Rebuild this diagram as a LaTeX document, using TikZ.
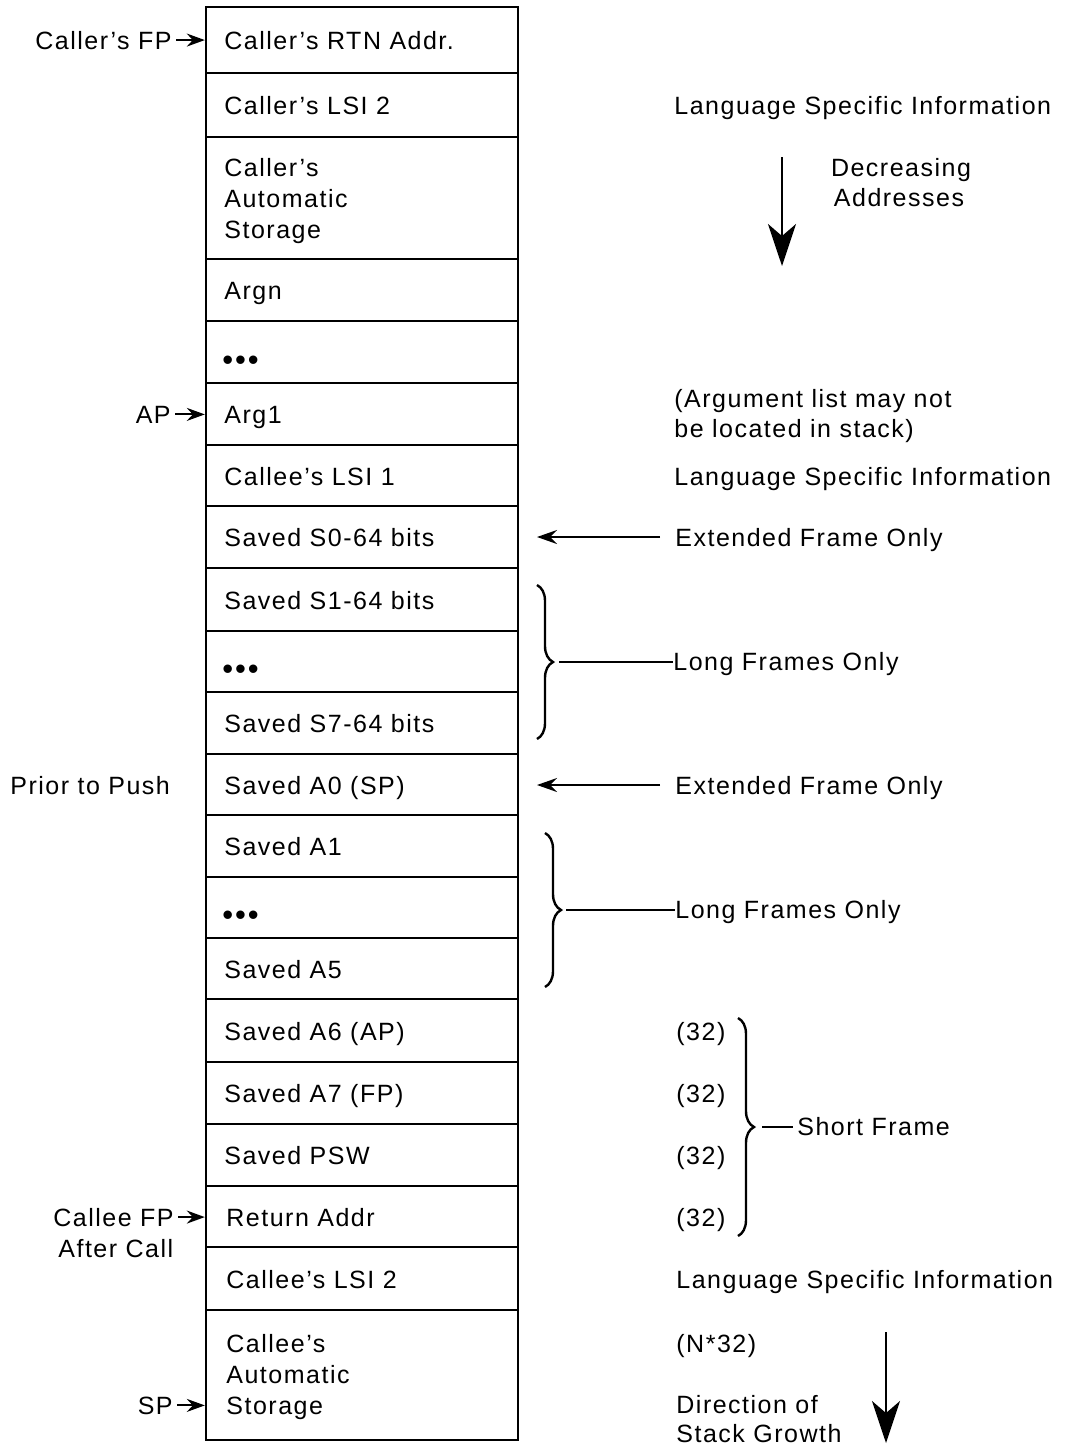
\documentclass[tikz,border=0pt]{standalone}
\usepackage{fontspec}
\setmainfont{Liberation Sans}[LetterSpace=6]
\usetikzlibrary{arrows.meta,decorations.pathreplacing,calc}
\begin{document}
\begin{tikzpicture}[x=0.5pt,y=-0.5pt,
  cell/.style={draw, line width=1.2pt, minimum width=156pt, inner sep=0pt},
  txt/.style={anchor=base west, inner sep=0pt, font=\fontsize{12.5pt}{15pt}\selectfont},
  dots/.style={txt, font=\fontsize{15.5pt}{15pt}\selectfont},
  rtxt/.style={txt, anchor=base east},
  ctxt/.style={txt, anchor=base},
  smallarrow/.style={line width=1pt, -{Stealth[length=9pt,width=6.5pt,inset=3pt]}},
  extarrow/.style={line width=1pt, -{Stealth[length=10pt,width=7pt,inset=3.5pt]}},
  bigarrow/.style={line width=1pt, -{Stealth[length=21pt,width=14pt,inset=6pt]}},
  brc/.style={decorate, decoration={brace, amplitude=8pt}, line width=1.2pt},
  conn/.style={line width=1pt}
]
\useasboundingbox[fill=white] (0,0) rectangle (1065,1447);

% stack cells
\newcommand\stackcell[3]{\node[cell, minimum height={(#3-#2)*0.5pt}] (#1) at (362,{(#2+#3)/2}) {};}
\stackcell{r1}{7}{73}
\stackcell{r2}{73}{137}
\stackcell{r3}{137}{259}
\stackcell{r4}{259}{321}
\stackcell{r5}{321}{383}
\stackcell{r6}{383}{445}
\stackcell{r7}{445}{506}
\stackcell{r8}{506}{568}
\stackcell{r9}{568}{631}
\stackcell{r10}{631}{692}
\stackcell{r11}{692}{754}
\stackcell{r12}{754}{815}
\stackcell{r13}{815}{877}
\stackcell{r14}{877}{938}
\stackcell{r15}{938}{999}
\stackcell{r16}{999}{1062}
\stackcell{r17}{1062}{1124}
\stackcell{r18}{1124}{1186}
\stackcell{r19}{1186}{1247}
\stackcell{r20}{1247}{1310}
\stackcell{r21}{1310}{1440}

% cell texts
\node[txt] (t1) at (224,49) {Caller's RTN Addr.};
\node[txt] (t2) at (224,114) {Caller's LSI 2};
\node[txt] (t3a) at (224,176) {Caller's};
\node[txt] (t3b) at (224,207) {Automatic};
\node[txt] (t3c) at (224,238) {Storage};
\node[txt] (t4) at (224,299) {Argn};
\node[dots] (t5) at (222,370) {•••};
\node[txt] (t6) at (224,423) {Arg1};
\node[txt] (t7) at (224,485) {Callee's LSI 1};
\node[txt] (t8) at (224,546) {Saved S0-64 bits};
\node[txt] (t9) at (224,609) {Saved S1-64 bits};
\node[dots] (t10) at (222,679) {•••};
\node[txt] (t11) at (224,732) {Saved S7-64 bits};
\node[txt] (t12) at (224,794) {Saved A0 (SP)};
\node[txt] (t13) at (224,855) {Saved A1};
\node[dots] (t14) at (222,925) {•••};
\node[txt] (t15) at (224,978) {Saved A5};
\node[txt] (t16) at (224,1040) {Saved A6 (AP)};
\node[txt] (t17) at (224,1102) {Saved A7 (FP)};
\node[txt] (t18) at (224,1164) {Saved PSW};
\node[txt] (t19) at (226,1226) {Return Addr};
\node[txt] (t20) at (226,1288) {Callee's LSI 2};
\node[txt] (t21a) at (226,1352) {Callee's};
\node[txt] (t21b) at (226,1383) {Automatic};
\node[txt] (t21c) at (226,1414) {Storage};

% left labels
\node[rtxt] (lfp) at (172,49) {Caller's FP};
\node[rtxt] (lap) at (171,423) {AP};
\node[txt] (lprior) at (10,794) {Prior to Push};
\node[rtxt] (lcfp) at (174,1226) {Callee FP};
\node[txt] (lafter) at (58,1257) {After Call};
\node[rtxt] (lsp) at (173,1414) {SP};

\draw[smallarrow] ([xshift=2pt]lfp.east) -- (lfp.east -| r1.west);
\draw[smallarrow] ([xshift=2pt]lap.east) -- (lap.east -| r6.west);
\draw[smallarrow] ([xshift=2pt]lcfp.east) -- (lcfp.east -| r19.west);
\draw[smallarrow] ([xshift=2pt]lsp.east) -- (lsp.east -| r21.west);

% right annotations
\node[txt] (lsi1) at (674,114) {Language Specific Information};
\node[ctxt] (dec) at (901,176) {Decreasing};
\node[ctxt] (addr) at (899,206) {Addresses};
\coordinate (dtop) at (782,157);
\coordinate (dbot) at (782,266);
\draw[bigarrow] (dtop) -- (dbot);

\node[txt] (arg1) at (674,407) {(Argument list may not};
\node[txt] (arg2) at (674,437) {be located in stack)};
\node[txt] (lsi2) at (674,485) {Language Specific Information};

\node[txt] (efo1) at (675,546) {Extended Frame Only};
\coordinate (efo1s) at (660,537);
\coordinate (efo1t) at (537,537);
\draw[extarrow] (efo1s) -- (efo1t);

\draw[brc] (537,585) -- (537,739);
\coordinate (b1tip) at (559,662);
\node[txt] (lfo1) at (673,670) {Long Frames Only};
\draw[conn] (b1tip) -- (b1tip -| lfo1.west);

\node[txt] (efo2) at (675,794) {Extended Frame Only};
\coordinate (efo2s) at (660,785);
\coordinate (efo2t) at (537,785);
\draw[extarrow] (efo2s) -- (efo2t);

\draw[brc] (545,833) -- (545,987);
\coordinate (b2tip) at (566,910);
\node[txt] (lfo2) at (675,918) {Long Frames Only};
\draw[conn] (b2tip) -- (b2tip -| lfo2.west);

\node[txt] (n1) at (676,1040) {(32)};
\node[txt] (n2) at (676,1102) {(32)};
\node[txt] (n3) at (676,1164) {(32)};
\node[txt] (n4) at (676,1226) {(32)};
\draw[brc] (738,1018) -- (738,1236);
\coordinate (b3tip) at (762,1127);
\node[txt] (sf) at (797,1135) {Short Frame};
\draw[conn] (b3tip) -- ([xshift=-2pt]b3tip -| sf.west);

\node[txt] (lsi3) at (676,1288) {Language Specific Information};
\node[txt] (n32) at (676,1352) {(N*32)};
\node[txt] (dir1) at (676,1413) {Direction of};
\node[txt] (dir2) at (676,1442) {Stack Growth};
\coordinate (gtop) at (886,1332);
\coordinate (gbot) at (886,1443);
\draw[bigarrow] (gtop) -- (gbot);
\end{tikzpicture}
\end{document}
